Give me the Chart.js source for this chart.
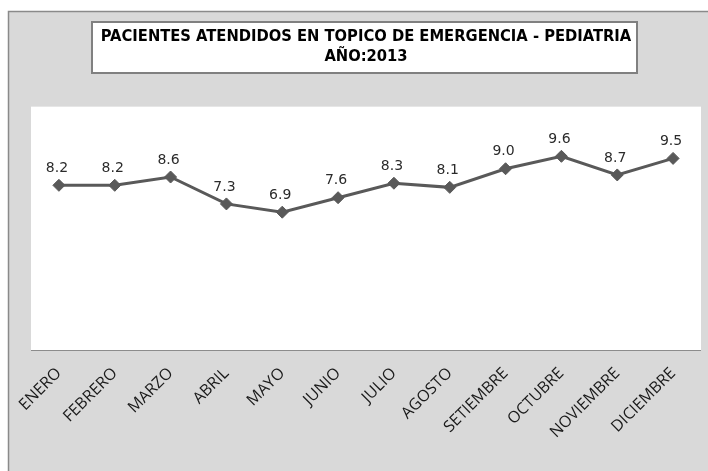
<!DOCTYPE html>
<html>
<head>
<meta charset="utf-8">
<script src="https://cdn.jsdelivr.net/npm/chart.js@4"></script>
<style>
  html, body { margin: 0; padding: 0; background: #ffffff; }
  #wrap { width: 708px; height: 471px; }
</style>
</head>
<body>
<div id="wrap"><canvas id="myChart" width="708" height="471"></canvas></div>
<script>
// Chart data
const months = ['ENERO', 'FEBRERO', 'MARZO', 'ABRIL', 'MAYO', 'JUNIO', 'JULIO', 'AGOSTO', 'SETIEMBRE', 'OCTUBRE', 'NOVIEMBRE', 'DICIEMBRE'];
const patients = [8.2, 8.2, 8.6, 7.3, 6.9, 7.6, 8.3, 8.1, 9.0, 9.6, 8.7, 9.5];
const titleLines = ['PACIENTES ATENDIDOS EN TOPICO DE EMERGENCIA - PEDIATRIA', 'AÑO:2013'];

const lineGray = '#595959';

// Gray frame, white plot area, axis line and title box
const backgroundPlugin = {
  id: 'background',
  beforeDraw(chart) {
    const ctx = chart.ctx;
    const area = chart.chartArea;
    const axisY = area.bottom - 5; // the baseline sits a little above the zero line
    ctx.save();
    ctx.fillStyle = '#d9d9d9';
    ctx.fillRect(8, 11, 720, 480);
    ctx.strokeStyle = '#8a8a8a';
    ctx.lineWidth = 1.5;
    ctx.strokeRect(8.5, 11.5, 720, 480);
    // plot area
    ctx.fillStyle = '#ffffff';
    ctx.fillRect(area.left, area.top, area.right - area.left, axisY - area.top);
    ctx.strokeStyle = '#8c8c8c';
    ctx.lineWidth = 1;
    ctx.beginPath();
    ctx.moveTo(area.left, axisY + 0.5);
    ctx.lineTo(area.right, axisY + 0.5);
    ctx.stroke();
    // title box
    ctx.fillStyle = '#ffffff';
    ctx.fillRect(92, 22, 545, 51);
    ctx.strokeStyle = '#808080';
    ctx.lineWidth = 2;
    ctx.strokeRect(92, 22, 545, 51);
    ctx.restore();
  }
};

// Value labels above each point
const valueLabels = {
  id: 'valueLabels',
  afterDatasetsDraw(chart) {
    const ctx = chart.ctx;
    const meta = chart.getDatasetMeta(0);
    ctx.save();
    ctx.font = '14px "DejaVu Sans"';
    ctx.fillStyle = '#2b2b2b';
    ctx.textAlign = 'center';
    ctx.textBaseline = 'middle';
    meta.data.forEach((pt, i) => {
      ctx.fillText(patients[i].toFixed(1), pt.x - 2, pt.y - 17);
    });
    ctx.restore();
  }
};

const ctx = document.getElementById('myChart').getContext('2d');
const myChart = new Chart(ctx, {
  type: 'line',
  data: {
    labels: months,
    datasets: [{
      label: 'Pacientes',
      data: patients,
      borderColor: lineGray,
      backgroundColor: lineGray,
      borderWidth: 3,
      tension: 0,
      pointStyle: 'rectRot',
      pointRadius: 6,
      pointBorderWidth: 1,
      pointBackgroundColor: lineGray,
      pointBorderColor: lineGray
    }]
  },
  options: {
    responsive: false,
    animation: false,
    layout: {
      padding: { left: 31, right: 7, top: 0, bottom: 0 }
    },
    scales: {
      x: {
        offset: true,
        grid: { display: false, drawTicks: false },
        border: { display: false },
        ticks: {
          color: '#1a1a1a',
          font: { family: '"Open Sans"', size: 16 },
          minRotation: 45,
          maxRotation: 45,
          padding: 9,
          autoSkip: false
        },
        afterFit(scale) {
          scale.height = 116;
        }
      },
      y: {
        display: false,
        min: 0,
        max: 12
      }
    },
    plugins: {
      legend: { display: false },
      tooltip: { enabled: false },
      title: {
        display: true,
        fullSize: false,
        text: titleLines,
        color: '#000000',
        font: { family: '"DejaVu Sans Condensed"', size: 16.4, weight: 'bold', lineHeight: 1.27 },
        padding: { top: 26, bottom: 39 }
      }
    }
  },
  plugins: [backgroundPlugin, valueLabels]
});
</script>
</body>
</html>
